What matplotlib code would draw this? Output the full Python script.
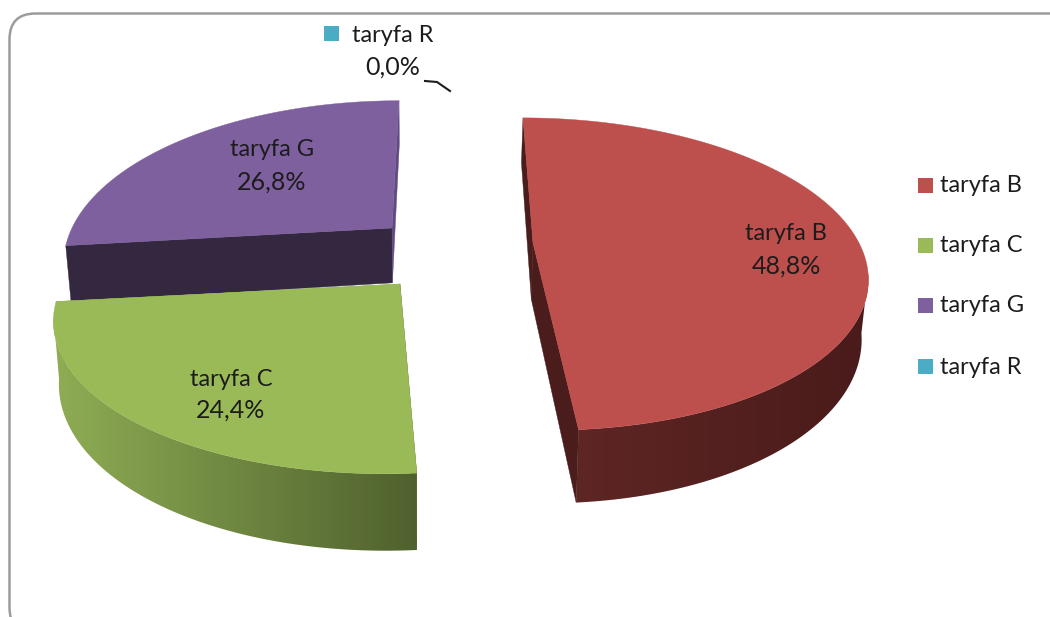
import numpy as np
import matplotlib
matplotlib.use("Agg")
import matplotlib.pyplot as plt
from matplotlib.colors import to_rgb
from matplotlib.patches import FancyBboxPatch, Polygon, Rectangle

plt.rcParams['font.family'] = ['Lato', 'DejaVu Sans']

# data
categories = ['taryfa B', 'taryfa C', 'taryfa G', 'taryfa R']
shares = [48.8, 24.4, 26.8, 0.0]
colors = ['#BD4F4D', '#9ABA58', '#7F609F', '#4BACC6']

# look of the 3d slices: apex x/y, half width, skew, half height (pixels)
apex_x = [533, 400, 392]
apex_y = [243, 284, 228]
half_w = [326, 337, 320]
skew = [-12, 12, 8.4]
half_h = [150, 152, 152.6]
wall_from = ['#5E2624', '#8FAD54', '#33283F']
wall_to = ['#491B1A', '#4F612E', '#33283F']
side_start = ['#4A1C1B', '#4F612E', '#33283F']
side_end = ['#4A1C1B', '#8FAD54', '#5F4A82']
persp = 0.199


def outline(i, t):
    u, v = np.cos(t), np.sin(t)
    d = 1 + persp * v
    return np.column_stack([apex_x[i] + (half_w[i] * u + skew[i] * v) / d,
                            apex_y[i] - half_h[i] * v / d])


def extrude(p):
    p = np.atleast_2d(p)
    return np.column_stack([p[:, 0] + 0.015 * (420 - p[:, 0]),
                            p[:, 1] + 55 + 0.09 * (p[:, 1] - 230)])


def draw_slice(ax, i, a0, a1):
    t = np.radians(np.linspace(a0, a1, 200))
    arc = outline(i, t)
    apex = np.array([[apex_x[i], apex_y[i]]], dtype=float)

    # outer wall, only the front part of the rim shows, shaded left to right
    front = arc[np.sin(t) <= -persp]
    if len(front) > 1:
        wall = np.vstack([front, extrude(front)[::-1]])
        x0, x1 = wall[:, 0].min(), wall[:, 0].max()
        y0, y1 = wall[:, 1].min(), wall[:, 1].max()
        c0, c1 = np.array(to_rgb(wall_from[i])), np.array(to_rgb(wall_to[i]))
        ramp = c0 + (c1 - c0) * np.linspace(0, 1, 256)[:, None]
        im = ax.imshow(ramp[None, :, :], extent=[x0, x1, y1, y0], aspect='auto', zorder=2 + (2 - i) * 3)
        im.set_clip_path(Polygon(wall, closed=True, transform=ax.transData))

    # flat sides going in to the centre
    for end, col in ((arc[0], side_start[i]), (arc[-1], side_end[i])):
        side = np.vstack([apex, end, extrude(end), extrude(apex)])
        ax.add_patch(Polygon(side, closed=True, fc=col, ec=col, lw=0.3, zorder=3 + (2 - i) * 3))

    top = np.vstack([apex, arc])
    ax.add_patch(Polygon(top, closed=True, fc=colors[i], ec=colors[i], lw=0.3, zorder=4 + (2 - i) * 3))


fig = plt.figure(figsize=(10.5, 6.17), dpi=100)
ax = fig.add_axes([0, 0, 1, 1])

ax.add_patch(FancyBboxPatch((9.5, 13.5), 1100, 620, boxstyle='round,pad=0,rounding_size=26',
                            fc='white', ec='#9C9C9C', lw=1.8, zorder=1))

# cumulative angles, clockwise from the top
edges = 90 - 3.6 * np.cumsum([0] + shares)
for i in [2, 1, 0]:
    draw_slice(ax, i, edges[i], edges[i + 1])

ax.set_xlim(0, 1050)
ax.set_ylim(617, 0)
ax.axis('off')


def pct(v):
    return f'{v:.1f}'.replace('.', ',') + '%'


txt = '#1C1C1C'
label_x = [786, 231, 272, 393]
label_y = [234, 379, 150, 35]
value_y = [266, 410, 182, 67]
for name, v, x, y0, y1 in zip(categories, shares, label_x, label_y, value_y):
    ax.text(x, y0, name, ha='center', va='center', fontsize=17, color=txt, zorder=20)
    ax.text(x, y1, pct(v), ha='center', va='center', fontsize=18, color=txt, zorder=20)

# taryfa R has no visible slice, only its key square and leader
ax.add_patch(Rectangle((324, 26), 15, 15, fc=colors[3], ec='none', zorder=20))
ax.plot([425, 437, 450], [81, 82, 91], color='#1C1C1C', lw=1.5, zorder=20)

# legend
legend_y = [185, 245, 305, 366]
for name, col, y in zip(categories, colors, legend_y):
    ax.add_patch(Rectangle((918, y - 7.5), 15, 15, fc=col, ec='none', zorder=20))
    ax.text(940, y + 1, name, ha='left', va='center', fontsize=17, color=txt, zorder=20)

fig.savefig('out.png', dpi=100)
